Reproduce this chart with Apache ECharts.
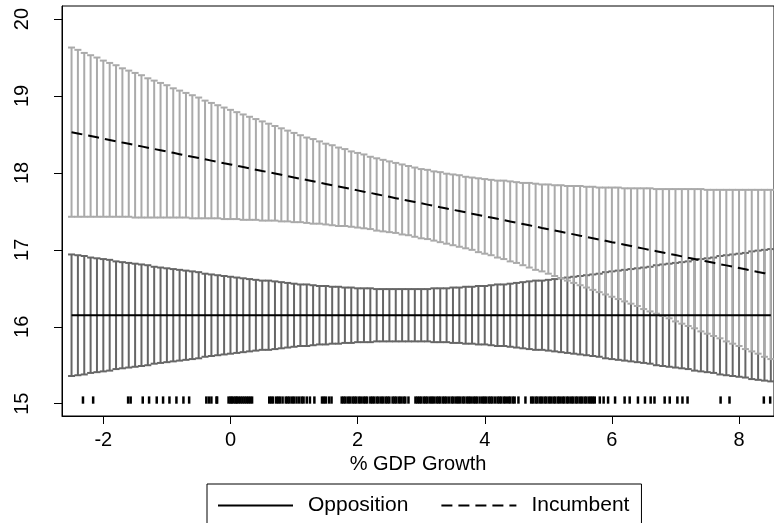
<!DOCTYPE html>
<html>
<head>
<meta charset="utf-8">
<style>
  html, body { margin: 0; padding: 0; background: #ffffff; }
  #chart { width: 774px; height: 523px; }
</style>
<script src="https://cdn.jsdelivr.net/npm/echarts/dist/echarts.min.js"></script>
</head>
<body>
<div id="chart"></div>
<script>
// Predicted outcome across % GDP growth, with 95% confidence caps
const gdpGrid = [
  -2.5,-2.4,-2.3,-2.2,-2.1,-2.0,-1.9,-1.8,-1.7,-1.6,
  -1.5,-1.4,-1.3,-1.2,-1.1,-1.0,-0.9,-0.8,-0.7,-0.6,
  -0.5,-0.4,-0.3,-0.2,-0.1,0.0,0.1,0.2,0.3,0.4,
  0.5,0.6,0.7,0.8,0.9,1.0,1.1,1.2,1.3,1.4,
  1.5,1.6,1.7,1.8,1.9,2.0,2.1,2.2,2.3,2.4,
  2.5,2.6,2.7,2.8,2.9,3.0,3.1,3.2,3.3,3.4,
  3.5,3.6,3.7,3.8,3.9,4.0,4.1,4.2,4.3,4.4,
  4.5,4.6,4.7,4.8,4.9,5.0,5.1,5.2,5.3,5.4,
  5.5,5.6,5.7,5.8,5.9,6.0,6.1,6.2,6.3,6.4,
  6.5,6.6,6.7,6.8,6.9,7.0,7.1,7.2,7.3,7.4,
  7.5,7.6,7.7,7.8,7.9,8.0,8.1,8.2,8.3,8.4,
  8.5
];

const incumbentMean = [
  18.530,18.513,18.496,18.480,18.463,18.446,18.429,18.412,18.395,18.379,
  18.362,18.345,18.328,18.311,18.295,18.278,18.261,18.244,18.227,18.210,
  18.194,18.177,18.160,18.143,18.126,18.110,18.093,18.076,18.059,18.042,
  18.025,18.009,17.992,17.975,17.958,17.941,17.925,17.908,17.891,17.874,
  17.857,17.840,17.824,17.807,17.790,17.773,17.756,17.740,17.723,17.706,
  17.689,17.672,17.655,17.639,17.622,17.605,17.588,17.571,17.554,17.538,
  17.521,17.504,17.487,17.470,17.454,17.437,17.420,17.403,17.386,17.369,
  17.353,17.336,17.319,17.302,17.285,17.269,17.252,17.235,17.218,17.201,
  17.184,17.168,17.151,17.134,17.117,17.100,17.084,17.067,17.050,17.033,
  17.016,16.999,16.983,16.966,16.949,16.932,16.915,16.898,16.882,16.865,
  16.848,16.831,16.814,16.798,16.781,16.764,16.747,16.730,16.713,16.697,
  16.680
];

const incumbentLow = [
  17.43,17.43,17.43,17.43,17.43,17.43,17.43,17.43,17.43,17.43,
  17.42,17.42,17.42,17.42,17.42,17.42,17.42,17.42,17.42,17.41,
  17.41,17.41,17.41,17.41,17.40,17.40,17.40,17.39,17.39,17.39,
  17.38,17.38,17.38,17.37,17.37,17.36,17.36,17.35,17.34,17.34,
  17.33,17.32,17.31,17.31,17.30,17.29,17.28,17.27,17.25,17.24,
  17.23,17.22,17.20,17.19,17.17,17.15,17.14,17.12,17.10,17.08,
  17.06,17.04,17.02,17.00,16.97,16.95,16.93,16.90,16.88,16.85,
  16.83,16.80,16.77,16.74,16.72,16.69,16.66,16.63,16.60,16.57,
  16.54,16.51,16.48,16.45,16.42,16.39,16.36,16.33,16.30,16.27,
  16.23,16.20,16.17,16.14,16.11,16.07,16.04,16.01,15.98,15.94,
  15.91,15.88,15.85,15.81,15.78,15.75,15.71,15.68,15.65,15.61,
  15.58
];

const incumbentHigh = [
  19.63,19.60,19.56,19.53,19.50,19.46,19.43,19.40,19.36,19.33,
  19.30,19.27,19.23,19.20,19.17,19.14,19.10,19.07,19.04,19.01,
  18.98,18.94,18.91,18.88,18.85,18.82,18.79,18.76,18.73,18.70,
  18.67,18.64,18.61,18.58,18.55,18.52,18.49,18.46,18.44,18.41,
  18.38,18.36,18.33,18.31,18.28,18.26,18.24,18.21,18.19,18.17,
  18.15,18.13,18.11,18.09,18.07,18.05,18.04,18.02,18.01,17.99,
  17.98,17.97,17.95,17.94,17.93,17.92,17.91,17.90,17.90,17.89,
  17.88,17.87,17.87,17.86,17.85,17.85,17.84,17.84,17.83,17.83,
  17.83,17.82,17.82,17.81,17.81,17.81,17.81,17.80,17.80,17.80,
  17.80,17.80,17.79,17.79,17.79,17.79,17.79,17.79,17.79,17.79,
  17.78,17.78,17.78,17.78,17.78,17.78,17.78,17.78,17.78,17.78,
  17.78
];

const oppositionMean = [
  16.15,16.15,16.15,16.15,16.15,16.15,16.15,16.15,16.15,16.15,
  16.15,16.15,16.15,16.15,16.15,16.15,16.15,16.15,16.15,16.15,
  16.15,16.15,16.15,16.15,16.15,16.15,16.15,16.15,16.15,16.15,
  16.15,16.15,16.15,16.15,16.15,16.15,16.15,16.15,16.15,16.15,
  16.15,16.15,16.15,16.15,16.15,16.15,16.15,16.15,16.15,16.15,
  16.15,16.15,16.15,16.15,16.15,16.15,16.15,16.15,16.15,16.15,
  16.15,16.15,16.15,16.15,16.15,16.15,16.15,16.15,16.15,16.15,
  16.15,16.15,16.15,16.15,16.15,16.15,16.15,16.15,16.15,16.15,
  16.15,16.15,16.15,16.15,16.15,16.15,16.15,16.15,16.15,16.15,
  16.15,16.15,16.15,16.15,16.15,16.15,16.15,16.15,16.15,16.15,
  16.15,16.15,16.15,16.15,16.15,16.15,16.15,16.15,16.15,16.15,
  16.15
];

const oppositionLow = [
  15.36,15.37,15.38,15.40,15.41,15.42,15.43,15.45,15.46,15.47,
  15.48,15.49,15.50,15.52,15.53,15.54,15.55,15.56,15.57,15.58,
  15.59,15.61,15.62,15.63,15.64,15.65,15.66,15.67,15.68,15.69,
  15.70,15.70,15.71,15.72,15.73,15.74,15.75,15.75,15.76,15.77,
  15.77,15.78,15.78,15.79,15.79,15.80,15.80,15.80,15.81,15.81,
  15.81,15.81,15.81,15.81,15.81,15.81,15.81,15.80,15.80,15.80,
  15.79,15.79,15.78,15.78,15.77,15.77,15.76,15.75,15.75,15.74,
  15.73,15.72,15.71,15.70,15.70,15.69,15.68,15.67,15.66,15.65,
  15.64,15.63,15.62,15.61,15.59,15.58,15.57,15.56,15.55,15.54,
  15.53,15.52,15.50,15.49,15.48,15.47,15.46,15.45,15.43,15.42,
  15.41,15.40,15.38,15.37,15.36,15.35,15.34,15.32,15.31,15.30,
  15.29
];

const oppositionHigh = [
  16.94,16.93,16.92,16.90,16.89,16.88,16.87,16.85,16.84,16.83,
  16.82,16.81,16.80,16.78,16.77,16.76,16.75,16.74,16.73,16.72,
  16.71,16.69,16.68,16.67,16.66,16.65,16.64,16.63,16.62,16.61,
  16.60,16.60,16.59,16.58,16.57,16.56,16.55,16.55,16.54,16.53,
  16.53,16.52,16.52,16.51,16.51,16.50,16.50,16.50,16.49,16.49,
  16.49,16.49,16.49,16.49,16.49,16.49,16.49,16.50,16.50,16.50,
  16.51,16.51,16.52,16.52,16.53,16.53,16.54,16.55,16.55,16.56,
  16.57,16.58,16.59,16.60,16.60,16.61,16.62,16.63,16.64,16.65,
  16.66,16.67,16.68,16.69,16.71,16.72,16.73,16.74,16.75,16.76,
  16.77,16.78,16.80,16.81,16.82,16.83,16.84,16.85,16.87,16.88,
  16.89,16.90,16.92,16.93,16.94,16.95,16.96,16.98,16.99,17.00,
  17.01
];

// Observed GDP growth values, shown as a rug along the bottom
const gdpObserved = [
  -2.32,-2.16,-1.61,-1.57,-1.38,-1.28,-1.16,-1.06,-0.96,-0.85,-0.74,-0.65,
  -0.38,-0.34,-0.30,-0.22,-0.21,
  -0.03,0.00,0.02,0.05,0.08,0.10,0.13,0.16,0.19,0.22,0.25,0.28,0.31,0.34,
  0.61,0.64,0.67,0.72,0.75,0.78,0.82,0.87,0.90,0.93,0.97,1.00,1.04,1.08,1.12,1.15,1.20,
  1.25,1.32,
  1.44,1.47,1.50,1.55,1.59,
  1.75,1.78,1.81,1.85,1.88,1.92,1.95,1.98,2.02,2.05,2.09,2.12,2.15,2.20,2.23,2.26,
  2.30,2.33,2.37,2.40,2.44,2.47,2.50,2.55,2.58,2.61,2.65,2.68,2.72,2.75,2.80,
  2.91,2.94,2.97,3.00,3.04,3.07,3.10,3.14,3.17,3.20,3.24,3.27,3.30,3.34,3.37,3.40,
  3.44,3.48,3.51,3.55,3.58,3.61,3.65,3.68,3.72,3.75,3.78,3.82,3.85,3.88,3.92,3.96,
  3.99,4.02,4.06,4.09,4.12,4.16,4.20,4.23,4.26,4.30,4.33,4.37,4.40,4.44,4.47,
  4.53,4.64,
  4.73,4.76,4.80,4.83,4.87,4.90,4.94,4.97,5.01,5.04,5.08,5.11,5.15,5.18,5.22,5.25,
  5.29,5.32,5.36,5.39,5.43,5.46,5.50,5.53,5.57,5.60,5.64,5.67,5.70,5.73,
  5.81,5.87,5.94,6.05,6.20,6.28,6.41,6.52,6.61,6.67,6.83,6.91,7.03,7.11,7.19,
  7.71,7.85,8.39,8.49
];

const xTicks = [-2, 0, 2, 4, 6, 8];
const yTicks = [15, 16, 17, 18, 19, 20];
const rugBase = 15.0;
const rugTop = 15.095;

const FONT = 'Liberation Sans, Arial, Helvetica, sans-serif';

function zip3(a, b, c) {
  return a.map((v, i) => [v, b[i], c[i]]);
}
function zip2(a, b) {
  return a.map((v, i) => [v, b[i]]);
}

// Vertical range bar with horizontal caps at both ends
function capRenderer(color) {
  return function (params, api) {
    const x = api.value(0);
    const pLo = api.coord([x, api.value(1)]);
    const pHi = api.coord([x, api.value(2)]);
    const hw = 3.5;
    const style = { stroke: color, lineWidth: 2, fill: null };
    return {
      type: 'group',
      children: [
        { type: 'line', shape: { x1: pLo[0], y1: pLo[1], x2: pHi[0], y2: pHi[1] }, style: style },
        { type: 'line', shape: { x1: pLo[0] - hw, y1: pLo[1], x2: pLo[0] + hw, y2: pLo[1] }, style: style },
        { type: 'line', shape: { x1: pHi[0] - hw, y1: pHi[1], x2: pHi[0] + hw, y2: pHi[1] }, style: style }
      ]
    };
  };
}

function rugRenderer(params, api) {
  const x = api.value(0);
  const p0 = api.coord([x, rugBase]);
  const p1 = api.coord([x, rugTop]);
  return {
    type: 'line',
    shape: { x1: p0[0], y1: p0[1], x2: p1[0], y2: p1[1] },
    style: { stroke: '#000000', lineWidth: 2.5 }
  };
}

const chart = echarts.init(document.getElementById('chart'), null, { renderer: 'canvas' });

chart.setOption({
  backgroundColor: '#ffffff',
  animation: false,
  textStyle: { fontFamily: FONT },
  grid: {
    left: 62, top: 6, right: -2, bottom: 107,
    show: true, borderColor: '#000000', borderWidth: 1, backgroundColor: 'transparent'
  },
  xAxis: {
    type: 'value',
    min: -2.65, max: 8.55,
    name: '% GDP Growth',
    nameLocation: 'middle',
    nameGap: 45,
    nameTextStyle: { fontFamily: FONT, fontSize: 20, color: '#000', verticalAlign: 'middle' },
    axisLine: { show: true, onZero: false, lineStyle: { color: '#000', width: 1 } },
    axisTick: { show: true, length: 8, customValues: xTicks, lineStyle: { color: '#000', width: 1 } },
    axisLabel: {
      customValues: xTicks, margin: 24, fontFamily: FONT, fontSize: 20, color: '#000',
      verticalAlign: 'middle'
    },
    splitLine: { show: false }
  },
  yAxis: {
    type: 'value',
    min: 14.84, max: 20.17,
    axisLine: { show: true, onZero: false, lineStyle: { color: '#000', width: 1 } },
    axisTick: { show: true, length: 8, customValues: yTicks, lineStyle: { color: '#000', width: 1 } },
    axisLabel: {
      customValues: yTicks, rotate: 90, margin: 40, fontFamily: FONT, fontSize: 20, color: '#000',
      align: 'center', verticalAlign: 'middle'
    },
    splitLine: { show: false }
  },
  legend: {
    data: ['Opposition', 'Incumbent'],
    left: 207, top: 484,
    orient: 'horizontal',
    itemWidth: 75, itemHeight: 20, itemGap: 32,
    padding: [11, 12, 24, 10],
    borderColor: '#000000', borderWidth: 1,
    itemStyle: { color: 'transparent', borderWidth: 0, opacity: 0 },
    textStyle: { fontFamily: FONT, fontSize: 21, color: '#000', padding: [0, 0, 0, 10] },
    selectedMode: false
  },
  series: [
    {
      type: 'custom', name: 'oppositionCI',
      renderItem: capRenderer('#666666'),
      encode: { x: 0, y: [1, 2] },
      data: zip3(gdpGrid, oppositionLow, oppositionHigh),
      z: 2
    },
    {
      type: 'custom', name: 'incumbentCI',
      renderItem: capRenderer('#aaaaaa'),
      encode: { x: 0, y: [1, 2] },
      data: zip3(gdpGrid, incumbentLow, incumbentHigh),
      z: 3
    },
    {
      type: 'line', name: 'Opposition',
      data: zip2(gdpGrid, oppositionMean),
      symbol: 'none', showSymbol: false,
      lineStyle: { color: '#000000', width: 2, type: 'solid' },
      itemStyle: { color: '#000000' },
      z: 5
    },
    {
      type: 'line', name: 'Incumbent',
      data: zip2(gdpGrid, incumbentMean),
      symbol: 'none', showSymbol: false,
      lineStyle: { color: '#000000', width: 2, type: [11, 6] },
      itemStyle: { color: '#000000' },
      z: 5
    },
    {
      type: 'custom', name: 'rug',
      renderItem: rugRenderer,
      encode: { x: 0, y: 1 },
      data: gdpObserved.map(v => [v, rugBase]),
      z: 4
    }
  ]
});
</script>
</body>
</html>
